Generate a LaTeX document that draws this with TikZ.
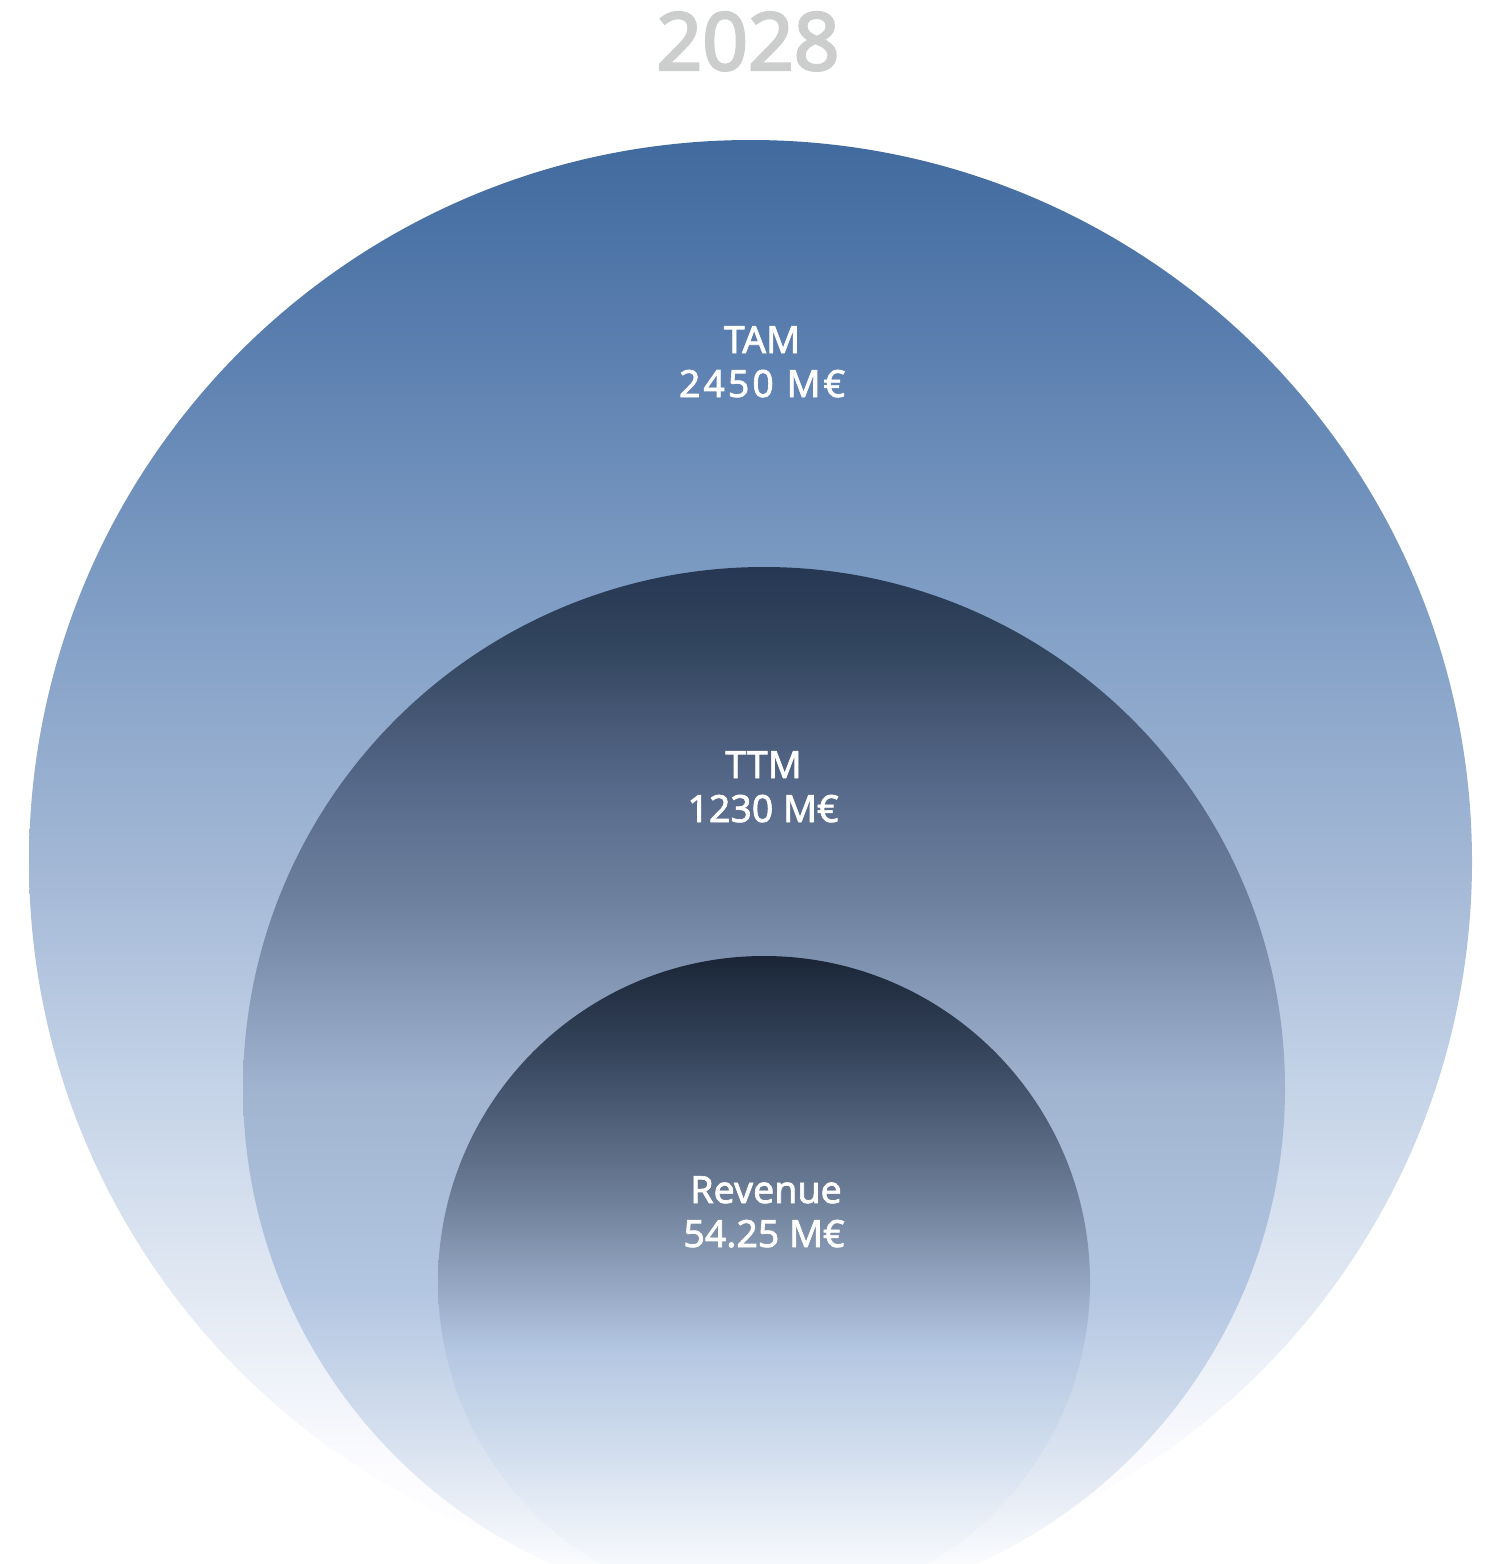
\documentclass[tikz,border=0pt]{standalone}
\usepackage{fontspec}
\setmainfont{Noto Sans}

% Vertical shadings: the band 25bp..75bp is stretched over the circle's height
\pgfdeclareverticalshading{tamshade}{100bp}{%
  color(0bp)=(white); color(25bp)=(white);
  color(29bp)=(white!97!blue!40!white);
  color(35bp)=(rgb,255:red,226;green,233;blue,243);
  color(42.5bp)=(rgb,255:red,195;green,210;blue,231);
  color(50bp)=(rgb,255:red,162;green,183;blue,213);
  color(60bp)=(rgb,255:red,124;green,155;blue,195);
  color(67.5bp)=(rgb,255:red,92;green,128;blue,176);
  color(75bp)=(rgb,255:red,65;green,106;blue,158);
  color(100bp)=(rgb,255:red,65;green,106;blue,158)}
\pgfdeclareverticalshading{ttmshade}{100bp}{%
  color(0bp)=(white); color(25bp)=(white);
  color(27bp)=(rgb,255:red,251;green,252;blue,254);
  color(32.5bp)=(rgb,255:red,218;green,227;blue,240);
  color(40bp)=(rgb,255:red,180;green,199;blue,226);
  color(50bp)=(rgb,255:red,160;green,179;blue,207);
  color(54bp)=(rgb,255:red,138;green,158;blue,187);
  color(59bp)=(rgb,255:red,109;green,129;blue,158);
  color(64.5bp)=(rgb,255:red,87;green,105;blue,138);
  color(71bp)=(rgb,255:red,51;green,70;blue,95);
  color(75bp)=(rgb,255:red,37;green,55;blue,82);
  color(100bp)=(rgb,255:red,37;green,55;blue,82)}
\pgfdeclareverticalshading{revshade}{100bp}{%
  color(0bp)=(white); color(25bp)=(white);
  color(28bp)=(rgb,255:red,248;green,250;blue,253);
  color(37bp)=(rgb,255:red,210;green,222;blue,238);
  color(45bp)=(rgb,255:red,179;green,198;blue,225);
  color(50bp)=(rgb,255:red,147;green,165;blue,192);
  color(57bp)=(rgb,255:red,106;green,123;blue,149);
  color(68bp)=(rgb,255:red,52;green,67;blue,90);
  color(75bp)=(rgb,255:red,26;green,37;blue,55);
  color(100bp)=(rgb,255:red,26;green,37;blue,55)}

\definecolor{yeargray}{RGB}{204,205,205}

\tikzset{
  yearlabel/.style={font=\fontsize{80}{90}\selectfont\addfontfeature{FakeBold=3}, text=yeargray, anchor=base, inner sep=0pt},
  ringlabel/.style={font=\fontsize{37.5}{45}\selectfont\addfontfeature{FakeBold=1.8}, text=white, anchor=base, inner sep=0pt},
}

\begin{document}
\begin{tikzpicture}[x=1pt,y=-1pt]
  \useasboundingbox (0,0) rectangle (1486,1564);
  \clip (0,0) rectangle (1486,1564);

  % nested market circles
  \path[shading=tamshade] (750.5,861.5) circle[radius=721.5pt];
  \path[shading=ttmshade] (764,1088) circle[radius=521pt];
  \path[shading=revshade] (764,1282) circle[radius=326pt];

  % year heading
  \node[yearlabel] (year) at (748,70) {2028};

  % circle labels
  \node[ringlabel] (tamname) at (762,353) {TAM};
  \node[ringlabel] (tamvalue) at (762,397) {\addfontfeature{LetterSpace=8}2450 M€};
  \node[ringlabel] (ttmname) at (763.5,778) {TTM};
  \node[ringlabel] (ttmvalue) at (763,822) {1230 M€};
  \node[ringlabel] (revname) at (766,1203) {Revenue};
  \node[ringlabel] (revvalue) at (764,1247) {54.25 M€};
\end{tikzpicture}
\end{document}
